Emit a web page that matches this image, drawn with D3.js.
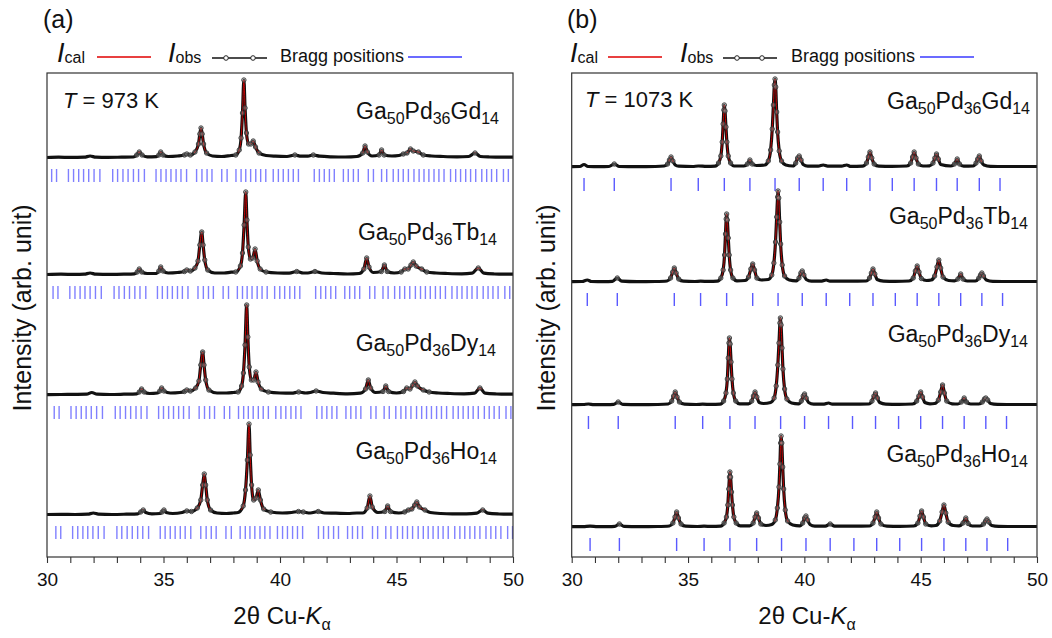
<!DOCTYPE html>
<html><head><meta charset="utf-8">
<script src="https://cdn.jsdelivr.net/npm/d3@7"></script>
<style>body{margin:0;background:#fff}svg{display:block}text{font-family:Arial,"Liberation Sans",sans-serif}</style>
</head><body><svg id="c" width="1052" height="638"></svg>
<script>
// ---------------- DATA ----------------
const compounds = ["Gd", "Tb", "Dy", "Ho"];
const temperatures = [973, 1073];
const panelLetters = ["(a)", "(b)"];
const xTickValues = [30, 31, 32, 33, 34, 35, 36, 37, 38, 39, 40, 41, 42, 43, 44, 45, 46, 47, 48, 49, 50];
const xTickLabels = ["30", "35", "40", "45", "50"];
// vertical offsets of the stacked patterns (arb. units)
const offsetsA = [399, 282, 162, 42];
const offsetsB = [390, 275, 152, 30];

// Bragg positions, panel (a) (Gd) and per-pattern shift
const braggA = [30.20,30.41,30.92,31.14,31.36,31.57,31.79,32.02,32.27,32.82,33.03,33.26,33.48,33.71,33.93,34.18,34.68,34.89,35.11,35.32,35.54,35.75,35.99,36.42,36.65,36.87,37.08,37.50,37.73,38.11,38.33,38.53,38.74,38.96,39.17,39.39,39.71,39.93,40.14,40.36,40.57,40.79,41.47,41.69,41.90,42.12,42.33,42.72,42.93,43.15,43.36,43.79,44.01,44.36,44.58,44.86,45.08,45.29,45.51,45.75,45.97,46.18,46.39,46.61,46.82,47.04,47.32,47.54,47.75,47.97,48.18,48.40,48.66,48.87,49.08,49.30,49.59,49.80];
const braggShiftA = [0, 0.06, 0.11, 0.18];
// Bragg positions, panel (b)
const braggB_Gd = [30.53,31.83,34.27,35.44,36.56,37.66,38.74,39.78,40.81,41.82,42.82,43.78,44.72,45.68,46.57,47.52,48.41];
const braggB_Tb = [30.67,31.96,34.41,35.54,36.66,37.78,38.87,39.91,40.94,41.95,42.95,43.91,44.85,45.78,46.72,47.63,48.52];
const braggB_Dy = [30.72,32.00,34.45,35.63,36.80,37.88,38.98,40.01,41.04,42.07,43.06,44.05,45.00,45.94,46.87,47.80,48.69];
const braggB_Ho = [30.79,32.05,34.51,35.69,36.80,37.95,39.02,40.07,41.11,42.13,43.11,44.10,45.04,46.00,46.94,47.85,48.74];

// Observed profiles [2theta, intensity above background], panel (a) T = 973 K
const obsA_Gd = [[30.0,0.5],[30.5,0.8],[31.0,0.6],[31.6,0.8],[31.85,2],[32.1,0.8],[32.6,0.6],[33.2,0.8],[33.7,1],[33.85,3],[33.96,6],[34.08,3],[34.3,1.2],[34.7,1.4],[34.8,3],[34.88,6],[34.98,3],[35.2,1.5],[35.6,2],[35.9,3],[36.0,4],[36.15,3],[36.35,6],[36.5,14],[36.56,24],[36.61,30],[36.66,24],[36.72,14],[36.85,5],[37.1,2],[37.5,1.5],[37.9,2.5],[38.1,3],[38.25,8],[38.33,20],[38.39,45],[38.45,78],[38.5,50],[38.56,25],[38.65,14],[38.75,14],[38.85,17],[38.95,11],[39.1,5],[39.4,2.5],[39.8,1.8],[40.3,1.5],[40.64,3],[40.9,1.8],[41.2,1.8],[41.43,3],[41.7,1.8],[42.2,1.2],[42.8,1],[43.3,1.5],[43.55,5],[43.65,12],[43.75,6],[43.95,2],[44.25,3],[44.36,8],[44.47,3],[44.8,2],[45.1,2.5],[45.29,4],[45.45,5],[45.6,9],[45.72,7],[45.94,6],[46.15,3],[46.5,2],[47.0,1.5],[47.6,1.2],[48.1,1.5],[48.37,5],[48.6,1.5],[49.0,1],[49.5,0.8],[50.0,0.8]];
const obsA_Tb = [[30.0,0.5],[30.6,0.8],[31.2,0.6],[31.6,0.8],[31.85,2],[32.1,0.8],[32.7,0.6],[33.3,0.8],[33.75,1.2],[33.87,3],[33.96,6],[34.07,3],[34.3,1.5],[34.7,1.5],[34.8,4],[34.88,8],[34.98,4],[35.2,2],[35.6,2.5],[35.9,3.5],[36.0,5],[36.15,4],[36.35,7],[36.48,14],[36.56,30],[36.64,43],[36.7,30],[36.77,15],[36.9,5],[37.2,2],[37.6,2],[37.9,2.8],[38.1,3],[38.3,9],[38.39,22],[38.46,50],[38.53,83],[38.58,55],[38.64,28],[38.73,16],[38.83,17],[38.93,26],[39.02,14],[39.15,6],[39.4,3],[39.9,2],[40.4,1.8],[40.72,3.5],[41.0,2],[41.2,2],[41.5,3.5],[41.8,2],[42.3,1.5],[42.9,1],[43.4,1.5],[43.6,6],[43.72,17],[43.82,8],[44.0,2.5],[44.35,3.5],[44.48,10],[44.6,3.5],[44.9,2],[45.2,3],[45.36,6],[45.5,6],[45.62,10],[45.72,13],[45.84,9],[46.08,6],[46.3,3],[46.7,2],[47.2,1.5],[47.8,1.2],[48.25,1.8],[48.51,7],[48.75,1.8],[49.2,1],[49.6,0.8],[50.0,0.8]];
const obsA_Dy = [[30.0,0.3],[30.6,0.5],[31.2,0.6],[31.7,0.8],[31.92,2.5],[32.15,0.8],[32.7,0.5],[33.3,0.8],[33.85,1.2],[33.96,3],[34.06,6],[34.17,3],[34.4,1.5],[34.75,2],[34.84,4],[34.92,7],[35.02,4],[35.3,2],[35.7,2.5],[35.9,3.5],[36.0,5],[36.15,4],[36.38,7],[36.52,14],[36.6,30],[36.68,43],[36.74,30],[36.81,15],[36.95,5],[37.3,2],[37.7,2],[38.0,2.5],[38.2,3],[38.35,9],[38.43,22],[38.5,50],[38.57,90],[38.62,58],[38.68,28],[38.77,15],[38.87,15],[38.97,23],[39.06,13],[39.2,6],[39.5,3],[40.0,2],[40.5,1.8],[40.8,3],[41.1,2],[41.3,2.5],[41.55,4],[41.85,2.5],[42.3,1.8],[42.9,1.2],[43.45,1.8],[43.67,6],[43.79,15],[43.89,7],[44.1,2.5],[44.42,3.5],[44.54,9],[44.66,3.5],[45.0,2],[45.3,3.5],[45.44,7],[45.58,6],[45.7,10],[45.79,13],[45.9,9],[46.15,5],[46.4,3],[46.8,2],[47.3,1.5],[47.9,1.2],[48.35,1.8],[48.58,7],[48.8,1.8],[49.3,1],[49.7,0.8],[50.0,0.8]];
const obsA_Ho = [[30.0,0.5],[30.6,0.6],[31.2,0.5],[31.75,0.8],[31.99,2],[32.2,0.8],[32.8,0.5],[33.4,0.8],[33.9,1.2],[34.02,3],[34.13,5],[34.24,2.5],[34.5,1.2],[34.85,1.5],[34.94,3],[35.02,5],[35.12,2.5],[35.4,1.5],[35.8,2.5],[36.0,4],[36.2,3.5],[36.45,7],[36.6,15],[36.68,30],[36.75,41],[36.81,30],[36.88,15],[37.02,5],[37.3,2],[37.7,1.5],[38.0,2],[38.2,2.5],[38.42,9],[38.52,25],[38.6,55],[38.67,91],[38.72,60],[38.78,30],[38.87,15],[38.97,17],[39.07,25],[39.16,15],[39.3,6],[39.6,3],[40.1,2],[40.5,2.5],[40.79,3.5],[41.0,3],[41.3,2],[41.64,3.5],[41.9,2],[42.4,1.8],[42.9,1.5],[43.3,2],[43.55,2],[43.74,7],[43.86,19],[43.96,8],[44.2,2.5],[44.5,3.5],[44.62,9],[44.74,3.5],[45.1,2],[45.35,3],[45.51,5],[45.66,6],[45.78,10],[45.87,13],[45.98,8],[46.22,5],[46.45,2.5],[46.9,1.5],[47.4,1.2],[48.0,1.2],[48.45,1.8],[48.7,5],[48.92,1.8],[49.4,1],[49.8,0.8],[50.0,0.8]];

// Observed profiles, panel (b) T = 1073 K
const obsB_Gd = [[30.0,0.3],[30.35,0.5],[30.53,2.5],[30.7,0.5],[31.2,0.3],[31.6,0.5],[31.83,3],[32.05,0.5],[32.8,0.3],[33.6,0.5],[33.97,1],[34.12,3],[34.2,7],[34.27,10],[34.35,6],[34.45,2],[34.6,0.8],[35.2,0.5],[35.44,1],[35.8,0.6],[36.16,0.8],[36.31,4],[36.41,11],[36.47,25],[36.51,43],[36.54,57],[36.56,62],[36.59,56],[36.63,40],[36.67,25],[36.73,11],[36.83,4],[36.98,1],[37.4,1],[37.55,3],[37.66,7],[37.76,3],[37.95,1.5],[38.3,2],[38.45,6],[38.55,17],[38.62,38],[38.67,62],[38.71,82],[38.74,88],[38.77,80],[38.81,55],[38.85,35],[38.92,16],[39.02,6],[39.2,2],[39.5,1],[39.63,4],[39.71,9],[39.78,11],[39.86,7],[39.95,2.5],[40.15,0.8],[40.6,0.8],[40.81,2],[41.0,0.8],[41.6,0.8],[41.82,2],[42.0,0.6],[42.5,0.8],[42.67,4],[42.75,10],[42.82,15],[42.9,9],[43.0,3],[43.2,0.8],[43.76,0.6],[44.4,1],[44.57,4],[44.65,10],[44.72,15],[44.8,9],[44.9,3],[45.1,1],[45.38,1.2],[45.53,4],[45.61,9],[45.68,13],[45.76,8],[45.86,2.5],[46.3,1],[46.45,3],[46.57,8],[46.67,3],[46.85,0.8],[47.25,1],[47.38,4],[47.45,8],[47.52,11],[47.6,6],[47.72,2],[48.0,0.6],[48.5,0.5],[49.2,0.5],[50.0,0.5]];
const obsB_Tb = [[30.0,0.3],[30.45,0.5],[30.67,2],[30.85,0.5],[31.4,0.3],[31.75,0.6],[31.96,4],[32.15,0.8],[32.8,0.3],[33.6,0.5],[34.1,1],[34.25,4],[34.34,10],[34.41,14],[34.49,9],[34.6,3],[34.8,0.8],[35.3,0.5],[35.54,0.8],[35.9,0.6],[36.26,0.8],[36.41,4],[36.51,12],[36.57,27],[36.61,48],[36.64,63],[36.66,68],[36.69,62],[36.73,44],[36.77,27],[36.83,12],[36.93,4],[37.1,1.2],[37.45,1.5],[37.6,5],[37.7,13],[37.78,18],[37.86,12],[37.96,4],[38.15,2],[38.45,2.5],[38.6,7],[38.69,19],[38.76,40],[38.81,65],[38.85,85],[38.87,91],[38.9,84],[38.94,60],[38.98,38],[39.05,17],[39.15,6],[39.35,2],[39.65,1.2],[39.77,4],[39.85,9],[39.91,11],[39.98,7],[40.08,2.5],[40.3,0.8],[40.75,0.8],[40.94,2],[41.1,0.8],[41.95,0.8],[42.65,1],[42.8,4],[42.88,9],[42.95,13],[43.03,8],[43.13,2.5],[43.4,0.8],[43.91,0.6],[44.5,1],[44.68,4],[44.77,11],[44.85,16],[44.93,10],[45.03,3.5],[45.25,1.5],[45.45,2],[45.6,6],[45.7,15],[45.78,22],[45.86,14],[45.96,5],[46.2,1.5],[46.45,1.2],[46.6,3],[46.72,8],[46.82,3],[47.0,1],[47.35,1],[47.5,4],[47.57,7],[47.63,9],[47.7,6],[47.82,2],[48.1,0.6],[48.52,0.5],[49.2,0.5],[50.0,0.5]];
const obsB_Dy = [[30.0,0.3],[30.5,0.5],[30.72,1],[30.95,0.4],[31.5,0.3],[31.8,0.6],[32.0,3],[32.2,0.6],[32.9,0.3],[33.7,0.5],[34.15,1],[34.3,4],[34.38,9],[34.45,13],[34.53,8],[34.63,3],[34.85,0.8],[35.35,0.5],[35.63,0.8],[36.0,0.6],[36.38,0.8],[36.53,4],[36.63,12],[36.69,26],[36.73,47],[36.76,62],[36.78,67],[36.81,61],[36.85,43],[36.89,26],[36.95,12],[37.05,4],[37.22,1.2],[37.6,1.2],[37.74,4],[37.81,9],[37.88,13],[37.96,8],[38.06,2.5],[38.25,1.5],[38.55,2.5],[38.7,7],[38.79,19],[38.86,40],[38.91,62],[38.95,82],[38.97,87],[39.0,80],[39.04,57],[39.08,36],[39.15,16],[39.25,6],[39.45,2],[39.75,1.2],[39.87,4],[39.95,9],[40.01,11],[40.08,7],[40.18,2.5],[40.4,0.8],[40.85,0.8],[41.04,2],[41.2,0.8],[42.07,0.8],[42.77,1],[42.91,4],[42.99,9],[43.06,12],[43.14,7],[43.24,2.5],[43.5,0.8],[44.05,0.6],[44.65,1],[44.83,4],[44.92,9],[45.0,13],[45.08,8],[45.18,2.5],[45.4,1.2],[45.6,1.5],[45.76,5],[45.86,13],[45.94,20],[46.02,12],[46.12,4],[46.35,1.2],[46.6,1],[46.75,3],[46.87,7],[46.97,3],[47.15,1],[47.5,1],[47.65,3],[47.74,6],[47.8,7],[47.88,5],[48.0,1.5],[48.3,0.6],[48.69,0.5],[49.3,0.5],[50.0,0.5]];
const obsB_Ho = [[30.0,0.3],[30.5,0.4],[30.79,0.8],[31.1,0.4],[31.6,0.3],[31.85,0.6],[32.05,3],[32.25,0.6],[32.9,0.3],[33.7,0.5],[34.2,1],[34.35,4],[34.44,10],[34.51,15],[34.59,9],[34.7,3],[34.9,0.8],[35.4,0.5],[35.69,0.8],[36.0,0.6],[36.4,0.8],[36.55,4],[36.65,10],[36.71,22],[36.75,38],[36.78,50],[36.8,55],[36.83,50],[36.87,35],[36.91,22],[36.97,10],[37.07,4],[37.25,1.2],[37.65,1.2],[37.8,4],[37.88,10],[37.95,14],[38.03,9],[38.13,3],[38.35,1.5],[38.6,2.5],[38.75,7],[38.84,19],[38.91,40],[38.95,63],[38.98,84],[39.0,91],[39.03,84],[39.07,60],[39.11,38],[39.18,17],[39.28,6],[39.5,2],[39.8,1.2],[39.93,4],[40.01,9],[40.07,11],[40.14,7],[40.24,2.5],[40.45,0.8],[40.9,0.8],[41.11,3],[41.3,0.8],[42.13,0.8],[42.8,1],[42.95,4],[43.04,10],[43.11,15],[43.19,9],[43.29,3],[43.55,0.8],[44.1,0.6],[44.7,1],[44.88,4],[44.97,11],[45.04,16],[45.12,10],[45.22,3],[45.45,1.2],[45.65,1.5],[45.82,6],[45.92,15],[46.0,22],[46.08,14],[46.18,5],[46.4,1.5],[46.65,1.2],[46.82,4],[46.94,9],[47.04,3.5],[47.22,1],[47.55,1],[47.7,3],[47.79,6],[47.85,8],[47.93,5],[48.05,1.5],[48.35,0.6],[48.74,0.5],[49.3,0.5],[50.0,0.5]];

// ---------------- RENDER ----------------
const svg = d3.select("#c");
const plotTop = 73, plotBottom = 557;
const y = d3.scaleLinear().domain([0, 484]).range([plotBottom, plotTop]);

function rich(parent, x, yy, parts, size, subSize, anchor, subDy) {
  const t = parent.append("text").attr("x", x).attr("y", yy)
    .attr("text-anchor", anchor || "start").attr("font-size", size).attr("fill", "#111");
  let shift = 0;
  parts.forEach(p => {
    const s = t.append("tspan").text(p.t);
    const want = p.sub ? subDy : 0;
    if (want !== shift) { s.attr("dy", want - shift); shift = want; }
    if (p.sub) s.attr("font-size", subSize);
    if (p.it) s.attr("font-style", "italic");
  });
  return t;
}

const panels = [
  { x0: 47, x1: 513, offsets: offsetsA,
    obs: [obsA_Gd, obsA_Tb, obsA_Dy, obsA_Ho],
    bragg: braggShiftA.map(s => braggA.map(v => v + s)),
    braggColor: "#8080ff",
    labels: [[499,119],[497,240],[496,351],[497,459]],
    tLabel: [63,108], letter: [43,28],
    legend: {I1: 57, red: [97,151], I2: 168, blk: [212,267], circ: [226,253], bragg: 280, blue: [408,462]},
    yTitleX: 31, xTitleX: 282 },
  { x0: 571.7, x1: 1037, offsets: offsetsB,
    obs: [obsB_Gd, obsB_Tb, obsB_Dy, obsB_Ho],
    bragg: [braggB_Gd, braggB_Tb, braggB_Dy, braggB_Ho],
    braggColor: "#5a5aff",
    labels: [[1030,109],[1028,224],[1028,342],[1028,462]],
    tLabel: [585,107], letter: [567,28],
    legend: {I1: 570, red: [608,662], I2: 680, blk: [723,777], circ: [737,762], bragg: 791, blue: [920,974]},
    yTitleX: 555, xTitleX: 807 }
];

const defs = svg.append("defs");

panels.forEach((P, pi) => {
  const x = d3.scaleLinear().domain([30, 50]).range([P.x0, P.x1]);
  const g = svg.append("g");
  const clipId = "plot" + pi;
  defs.append("clipPath").attr("id", clipId).append("rect")
    .attr("x", P.x0).attr("y", plotTop).attr("width", P.x1 - P.x0).attr("height", plotBottom - plotTop);
  const plot = g.append("g").attr("clip-path", `url(#${clipId})`);

  P.obs.forEach((data, i) => {
    const off = P.offsets[i];
    const line = d3.line().x(d => x(d[0])).y(d => y(d[1] + off)).curve(d3.curveMonotoneX);
    // Bragg ticks
    plot.append("g").selectAll("line").data(P.bragg[i]).join("line")
      .attr("x1", d => x(d)).attr("x2", d => x(d))
      .attr("y1", y(off) + 11).attr("y2", y(off) + 24)
      .attr("stroke", P.braggColor).attr("stroke-width", 1.4);
    // observed: thick black trace
    plot.append("path").datum(data).attr("d", line).attr("fill", "none")
      .attr("stroke", "#111").attr("stroke-width", 3.2).attr("stroke-linejoin", "round");
    // calculated (red), visible above the background band
    const cid = `calc${pi}_${i}`;
    defs.append("clipPath").attr("id", cid).append("rect")
      .attr("x", P.x0).attr("y", plotTop).attr("width", P.x1 - P.x0).attr("height", y(off) - 5 - plotTop);
    plot.append("path").datum(data).attr("d", line).attr("fill", "none")
      .attr("clip-path", `url(#${cid})`)
      .attr("stroke", "#d00000").attr("stroke-width", 0.9);
    // observed points (open circles)
    plot.append("g").selectAll("circle").data(data.filter(d => d[1] >= 3)).join("circle")
      .attr("cx", d => x(d[0])).attr("cy", d => y(d[1] + off)).attr("r", 2.2)
      .attr("fill", "#bbb").attr("fill-opacity", 0.35).attr("stroke", "#333").attr("stroke-width", 0.9);
    // compound label
    rich(g, P.labels[i][0], P.labels[i][1],
      [{t:"Ga"},{t:"50",sub:1},{t:"Pd"},{t:"36",sub:1},{t:compounds[i]},{t:"14",sub:1}],
      23, 16, "end", 5);
  });

  // frame
  g.append("rect").attr("x", P.x0).attr("y", plotTop).attr("width", P.x1 - P.x0).attr("height", plotBottom - plotTop)
    .attr("fill", "none").attr("stroke", "#333").attr("stroke-width", 1.2);

  // x axis
  const ax = g.append("g").attr("transform", `translate(0,${plotBottom})`)
    .call(d3.axisBottom(x).tickValues(xTickValues).tickSize(6).tickPadding(10)
      .tickFormat(d => xTickLabels.includes(String(d)) ? String(d) : ""));
  ax.select(".domain").remove();
  ax.selectAll(".tick line").attr("stroke", "#333").attr("stroke-width", 1.1);
  ax.selectAll(".tick text").attr("font-size", 19).attr("fill", "#111")
    .attr("font-family", "Arial, 'Liberation Sans', sans-serif");

  // T label
  rich(g, P.tLabel[0], P.tLabel[1], [{t:"T",it:1},{t:" = " + temperatures[pi] + " K"}], 22, 15, "start", 0);
  // panel letter
  g.append("text").attr("x", P.letter[0]).attr("y", P.letter[1]).attr("font-size", 25)
    .attr("fill", "#111").text(panelLetters[pi]);

  // legend
  const L = P.legend, ly = 62;
  rich(g, L.I1, ly, [{t:"I",it:1},{t:"cal",sub:1}], 27, 16, "start", 1);
  g.append("line").attr("x1", L.red[0]).attr("x2", L.red[1]).attr("y1", 57).attr("y2", 57)
    .attr("stroke", "#e00000").attr("stroke-width", 1.6);
  rich(g, L.I2, ly, [{t:"I",it:1},{t:"obs",sub:1}], 27, 16, "start", 1);
  g.append("line").attr("x1", L.blk[0]).attr("x2", L.blk[1]).attr("y1", 58).attr("y2", 58)
    .attr("stroke", "#111").attr("stroke-width", 1.6);
  g.selectAll(".lc").data(L.circ).join("circle").attr("cx", d => d).attr("cy", 58).attr("r", 2.3)
    .attr("fill", "#fff").attr("stroke", "#222").attr("stroke-width", 1);
  g.append("text").attr("x", L.bragg).attr("y", ly).attr("font-size", 18).attr("fill", "#111").text("Bragg positions");
  g.append("line").attr("x1", L.blue[0]).attr("x2", L.blue[1]).attr("y1", 57).attr("y2", 57)
    .attr("stroke", "#3a3aff").attr("stroke-width", 1.6);

  // axis titles
  g.append("text").attr("transform", `translate(${P.yTitleX},308) rotate(-90)`)
    .attr("text-anchor", "middle").attr("font-size", 25).attr("fill", "#111").text("Intensity (arb. unit)");
  rich(g, P.xTitleX, 624, [{t:"2θ Cu-"},{t:"K",it:1},{t:"α",sub:1}], 24, 16, "middle", 6);
});
</script></body></html>
